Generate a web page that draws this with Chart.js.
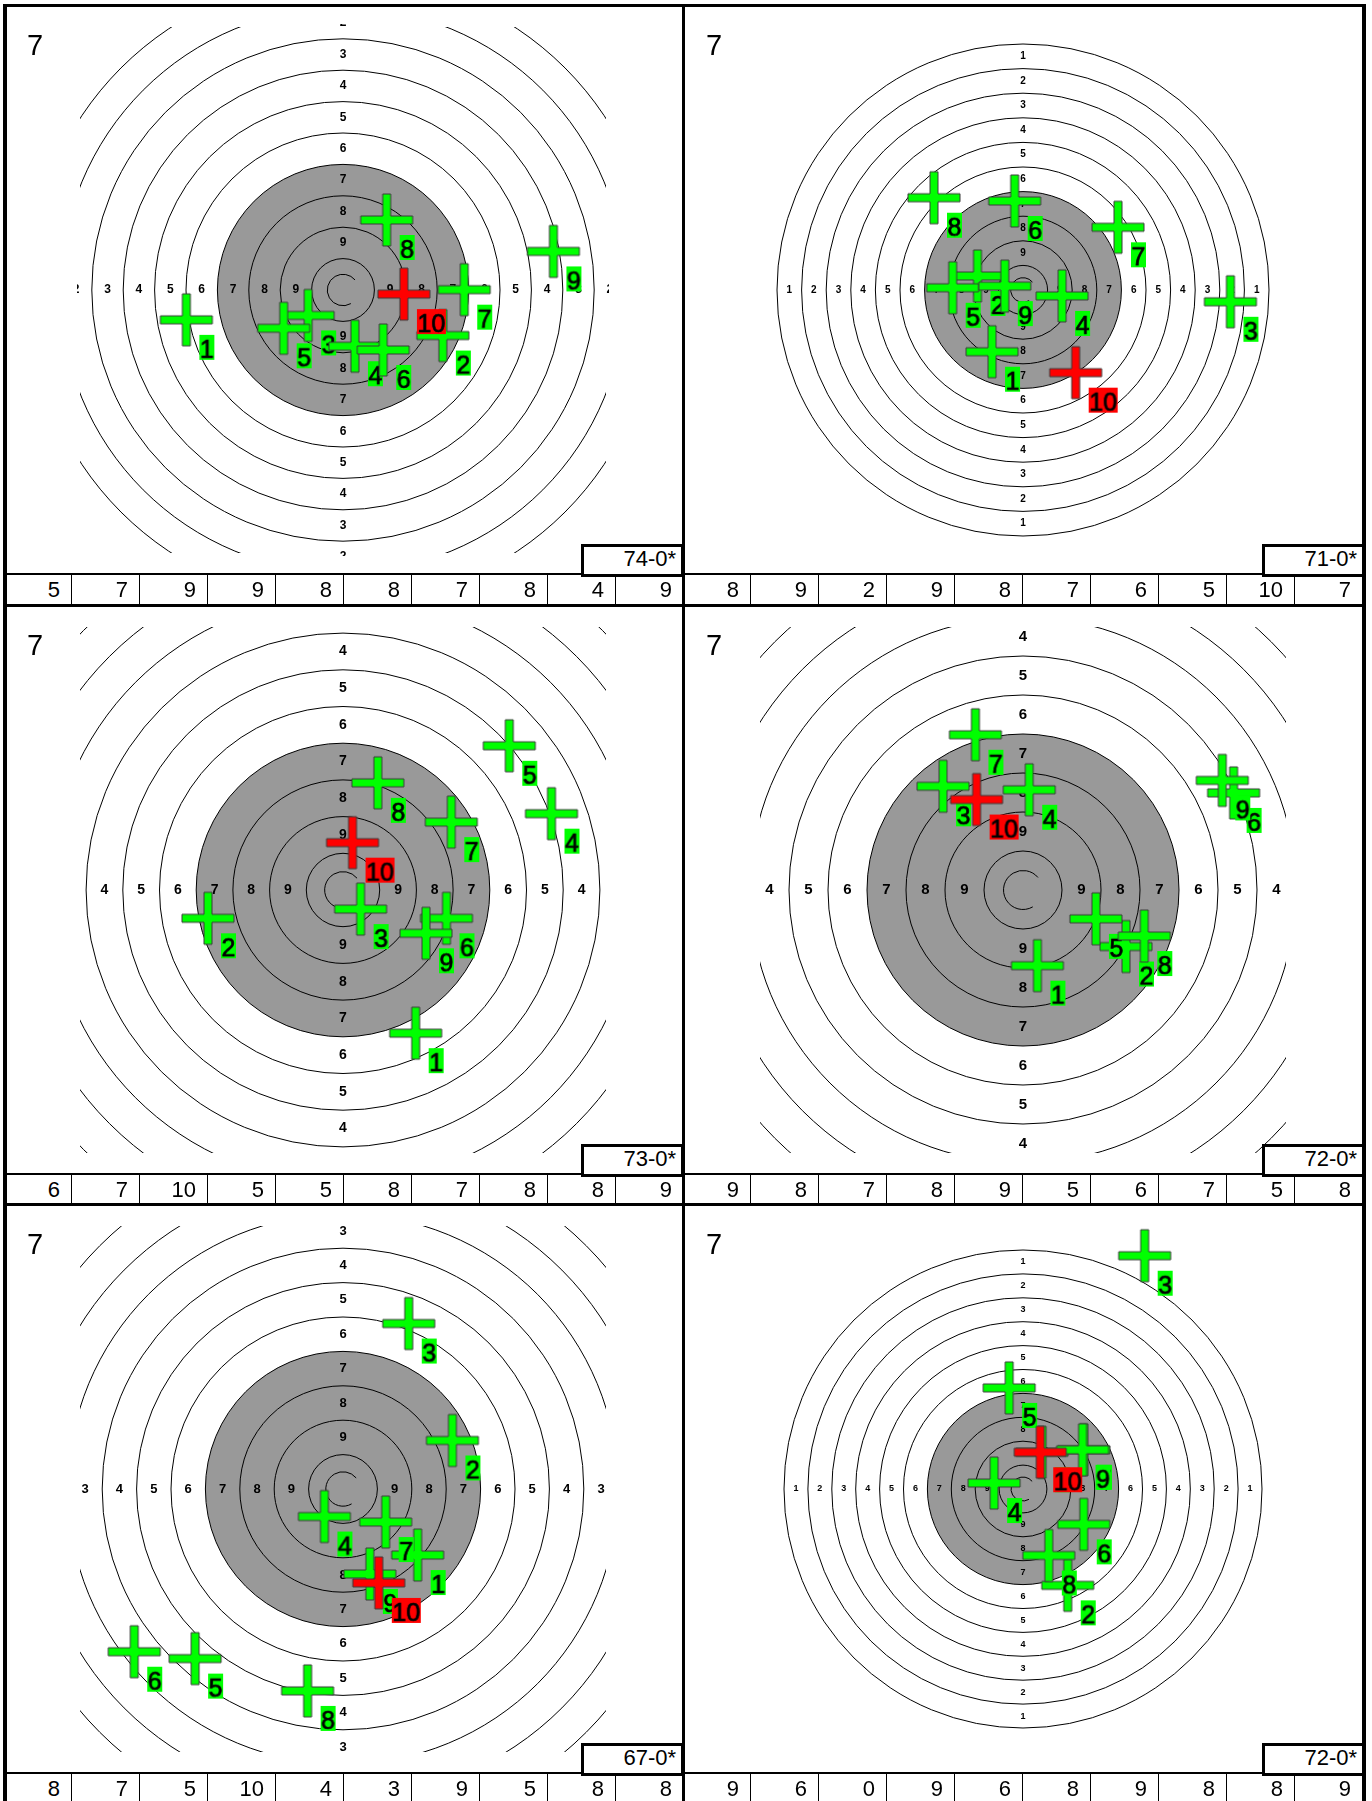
<!DOCTYPE html>
<html>
<head>
<meta charset="utf-8">
<script src="https://cdn.jsdelivr.net/npm/chart.js@4.4.1/dist/chart.umd.min.js"></script>
<style>
  body { margin:0; background:#fff; font-family:"Liberation Sans", Arial, sans-serif; }
  #sheet { position:relative; width:1372px; height:1801px; overflow:hidden; }
  .ln { position:absolute; background:#000; }
  canvas { position:absolute; }
  .tag { position:absolute; font-size:29px; line-height:29px; color:#000; }
  .total { position:absolute; box-sizing:border-box; border:3px solid #000; background:#fff;
           font-size:22px; text-align:right; padding-right:5px; line-height:24px; }
  .cell { position:absolute; font-size:22px; line-height:30px; text-align:right; box-sizing:border-box; padding-right:11px; }
</style>
</head>
<body>
<div id="sheet"></div>
<script>
// ===============================
// Data (shot positions in ring widths from the centre, y up)
// ===============================
const TARGET_TAG = ["7", "7", "7", "7", "7", "7"];

const T1_X     = [-4.99, 3.18, -1.11, 0.38, -1.89, 1.28, 3.86, 1.39, 6.70, 1.94];
const T1_Y     = [-0.95, -1.45, -0.81, -1.79, -1.22, -1.91, 0.01, 2.23, 1.23, -0.13];
const T1_SCORE = [5, 7, 9, 9, 8, 8, 7, 8, 4, 9];

const T2_X     = [-1.26, -1.85, 8.43, 1.59, -2.86, -0.34, 3.86, -3.62, -0.74, 2.14];
const T2_Y     = [-2.51, 0.57, -0.48, -0.24, 0.09, 3.62, 2.55, 3.75, 0.16, -3.36];
const T2_SCORE = [8, 9, 2, 9, 8, 7, 6, 5, 10, 7];

const T3_X     = [1.98, -3.68, 0.48, 5.68, 4.53, 2.82, 2.95, 0.95, 2.26, 0.26];
const T3_Y     = [-3.90, -0.77, -0.52, 2.08, 3.93, -0.77, 1.85, 2.92, -1.18, 1.29];
const T3_SCORE = [6, 7, 10, 5, 5, 8, 7, 8, 8, 9];

const T4_X     = [0.37, 2.64, -2.05, 0.16, 1.87, 5.40, -1.22, 3.11, 5.11, -1.19];
const T4_Y     = [-1.94, -1.45, 2.66, 2.57, -0.74, 2.49, 3.98, -1.18, 2.81, 2.32];
const T4_SCORE = [9, 8, 7, 8, 9, 5, 6, 7, 5, 8];

const T5_X     = [2.17, 3.18, 1.91, -0.54, -4.30, -6.07, 1.24, -1.03, 0.78, 1.04];
const T5_Y     = [-1.92, 1.41, 4.81, -0.80, -4.93, -4.73, -0.96, -5.87, -2.47, -2.73];
const T5_SCORE = [8, 7, 5, 10, 4, 3, 9, 5, 8, 8];

const T6_X     = [0.80, 1.87, 5.09, -1.21, -0.58, 2.54, 2.55, 1.08, 2.49, 0.72];
const T6_Y     = [1.54, -4.03, 9.76, 0.25, 4.23, -1.48, 1.64, -2.78, 1.64, 1.54];
const T6_SCORE = [9, 6, 0, 9, 6, 8, 9, 8, 8, 9];

// Target face: outer radius of each scoring zone (ring widths)
const ZONE_SCORE  = [1, 2, 3, 4, 5, 6, 7, 8, 9, 10];
const ZONE_RADIUS = [10, 9, 8, 7, 6, 5, 4, 3, 2, 1];
const BLACK_ZONE  = 7;       // aiming mark starts here
const INNER_TEN   = 0.5;

// ===============================
// Layout (px)
// ===============================
const PX_PER_RING = [31.4, 24.6, 36.7, 39.0, 34.4, 23.9];
const COL_LEFT  = [3, 682];
const COL_RIGHT = [682, 1366];
const ROW_TOP   = [4, 604, 1203];
const HALF_VIEW = 263;      // visible square around the centre
const CENTER_DY = 286;      // from row top
const CELL_W    = 68;

const GREY = "#999999";
const GREEN = "#00ff00";
const RED = "#ff0000";

const sheet = document.getElementById("sheet");
function box(cls, x, y, w, h, txt) {
  const d = document.createElement("div");
  d.className = cls;
  Object.assign(d.style, { left: x + "px", top: y + "px", width: w + "px", height: h + "px" });
  if (txt != null) d.textContent = txt;
  sheet.appendChild(d);
  return d;
}

// cross + numbered tag as one point image
function shotImage(n, last) {
  const S = 110, c = 55;
  const cv = document.createElement("canvas");
  cv.width = S; cv.height = S;
  const g = cv.getContext("2d");
  const fill = last ? RED : GREEN;
  const L = 26, T = 4;
  g.beginPath();
  g.moveTo(c - T, c - L); g.lineTo(c + T, c - L); g.lineTo(c + T, c - T);
  g.lineTo(c + L, c - T); g.lineTo(c + L, c + T); g.lineTo(c + T, c + T);
  g.lineTo(c + T, c + L); g.lineTo(c - T, c + L); g.lineTo(c - T, c + T);
  g.lineTo(c - L, c + T); g.lineTo(c - L, c - T); g.lineTo(c - T, c - T);
  g.closePath();
  g.fillStyle = fill; g.fill();
  g.lineWidth = 1; g.strokeStyle = "#3a3a3a"; g.stroke();

  g.font = '25px "Liberation Sans", Arial, sans-serif';
  const txt = String(n);
  const w = Math.round(g.measureText(txt).width);
  g.fillStyle = fill;
  g.fillRect(c + 13, c + 15, w + 1, 25);
  g.fillStyle = "#000"; g.strokeStyle = "#000"; g.lineWidth = 0.7;
  g.textBaseline = "alphabetic";
  g.fillText(txt, c + 13.5, c + 38);
  g.strokeText(txt, c + 13.5, c + 38);
  return cv;
}

// target face drawn on the chart's own scales
const targetFace = {
  id: "targetFace",
  beforeDatasetsDraw(chart) {
    const { ctx, chartArea: a, scales: { x, y } } = chart;
    const cx = x.getPixelForValue(0), cy = y.getPixelForValue(0);
    const rad = v => Math.abs(x.getPixelForValue(v) - cx);
    ctx.save();
    ctx.beginPath(); ctx.rect(a.left, a.top, a.right - a.left, a.bottom - a.top); ctx.clip();

    const bi = ZONE_SCORE.indexOf(BLACK_ZONE);
    ctx.fillStyle = GREY;
    ctx.beginPath(); ctx.arc(cx, cy, rad(ZONE_RADIUS[bi]), 0, Math.PI * 2); ctx.fill();

    ctx.strokeStyle = "#000"; ctx.lineWidth = 1;
    ZONE_RADIUS.forEach(r => { ctx.beginPath(); ctx.arc(cx, cy, rad(r), 0, Math.PI * 2); ctx.stroke(); });
    ctx.beginPath(); ctx.arc(cx, cy, rad(INNER_TEN), Math.PI / 3, Math.PI * 16 / 9); ctx.stroke();
    ctx.restore();

    // zone numbers on the four axes (clipped a little wider than the rings)
    ctx.save();
    ctx.beginPath(); ctx.rect(a.left - 3, a.top - 3, a.right - a.left + 6, a.bottom - a.top + 6); ctx.clip();
    const unit = rad(1);
    ctx.font = `bold ${Math.round(unit * 0.39)}px "Liberation Sans", Arial, sans-serif`;
    ctx.fillStyle = "#000"; ctx.textAlign = "center"; ctx.textBaseline = "middle";
    ZONE_SCORE.forEach((s, i) => {
      if (s >= 10) return;
      const r = ZONE_RADIUS[i] - 0.5;
      [[r, 0], [-r, 0], [0, r], [0, -r]].forEach(([dx, dy]) => {
        ctx.fillText(String(s), x.getPixelForValue(dx), y.getPixelForValue(dy));
      });
    });
    ctx.restore();
  }
};

const SHOT_X = [T1_X, T2_X, T3_X, T4_X, T5_X, T6_X];
const SHOT_Y = [T1_Y, T2_Y, T3_Y, T4_Y, T5_Y, T6_Y];
const SHOT_SCORE = [T1_SCORE, T2_SCORE, T3_SCORE, T4_SCORE, T5_SCORE, T6_SCORE];

// frame lines
box("ln", 3, 4, 1363, 3);
box("ln", 3, 4, 4, 1797);
box("ln", 1362, 4, 4, 1797);
box("ln", 682, 4, 3, 1797);
ROW_TOP.forEach((t, r) => {
  if (r > 0) box("ln", 3, t, 1363, 3);
  box("ln", 3, t + 569, 1363, 2);
  for (let col = 0; col < 2; col++) {
    for (let k = 1; k < 10; k++) box("ln", COL_LEFT[col] + CELL_W * k, t + 570, 1, 31);
  }
});

for (let p = 0; p < 6; p++) {
  const col = p % 2, row = Math.floor(p / 2);
  const L = COL_LEFT[col], R = COL_RIGHT[col], T = ROW_TOP[row];
  const cvLeft = L + 4, cvTop = T + 3;
  const W = R - 4 - cvLeft, H = 567;
  const cx = (L + R) / 2 + (col ? -1 : 0.5) - cvLeft, cy = CENTER_DY - 3;

  const cv = document.createElement("canvas");
  cv.width = W; cv.height = H;
  cv.style.left = cvLeft + "px"; cv.style.top = cvTop + "px";
  cv.style.width = W + "px"; cv.style.height = H + "px";
  sheet.appendChild(cv);

  const span = HALF_VIEW / PX_PER_RING[p];
  const n = SHOT_X[p].length;
  const pts = SHOT_X[p].map((v, i) => ({ x: v, y: SHOT_Y[p][i] }));
  const imgs = pts.map((_, i) => shotImage(i + 1, i === n - 1));

  new Chart(cv, {
    type: "scatter",
    data: { datasets: [{ data: pts, pointStyle: c => imgs[c.dataIndex], pointRadius: 10, clip: false }] },
    options: {
      responsive: false, animation: false, events: [],
      layout: { padding: { left: cx - HALF_VIEW, right: W - cx - HALF_VIEW, top: cy - HALF_VIEW, bottom: H - cy - HALF_VIEW } },
      scales: {
        x: { type: "linear", min: -span, max: span, display: false },
        y: { type: "linear", min: -span, max: span, display: false }
      },
      plugins: { legend: { display: false }, tooltip: { enabled: false } }
    },
    plugins: [targetFace]
  });

  box("tag", L + 24, T + 27, 40, 30, TARGET_TAG[p]);
  const sum = SHOT_SCORE[p].reduce((s, v) => s + v, 0);
  box("total", R - 101 + (col ? -3 : 0), T + 540, 103, 33, `${sum}-0*`);
  SHOT_SCORE[p].forEach((s, k) => box("cell", L + CELL_W * k, T + 571, CELL_W, 30, String(s)));
}
</script>
</body>
</html>
